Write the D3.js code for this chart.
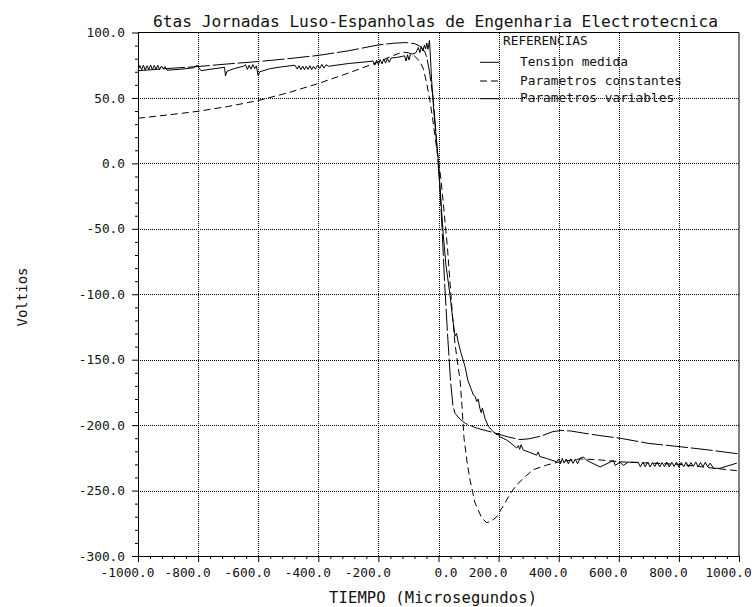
<!DOCTYPE html>
<html>
<head>
<meta charset="utf-8">
<script src="https://cdn.jsdelivr.net/npm/d3@7"></script>
<style>
  html, body { margin: 0; padding: 0; background: #fff; }
  svg { display: block; font-family: "DejaVu Sans Mono", monospace; }
</style>
</head>
<body>
<svg id="chart" width="752" height="607"></svg>
<script>
// Axis ticks and labels
const xMajor = [-1000, -800, -600, -400, -200, 0, 200, 400, 600, 800, 1000];
const xLabels = ["-1000.0", "-800.0", "-600.0", "-400.0", "-200.0", "0.0", "200.0", "400.0", "600.0", "800.0", "1000.0"];
const yMajor = [-300, -250, -200, -150, -100, -50, 0, 50, 100];
const yLabels = ["-300.0", "-250.0", "-200.0", "-150.0", "-100.0", "-50.0", "0.0", "50.0", "100.0"];
const xGrid = [-800, -600, -400, -200, 0, 200, 400, 600, 800];
const yGrid = [-250, -200, -150, -100, -50, 0, 50];

// Series: [time (µs), voltage (V)]
const tensionMedida = [
  [-1000, 71.0], [-994, 74.8], [-988, 71.6], [-982, 75.0], [-976, 71.4], [-970, 74.6],
  [-964, 71.8], [-958, 75.2], [-952, 71.5], [-946, 74.8], [-940, 72.0], [-934, 75.0],
  [-928, 71.6], [-922, 74.4], [-916, 72.2], [-910, 74.0], [-903, 71.2],
  [-860, 71.9], [-815, 73.0], [-804, 75.0], [-790, 70.8], [-760, 71.9], [-712, 73.4],
  [-709, 66.8], [-704, 70.4], [-680, 72.4], [-648, 74.3], [-642, 75.4], [-636, 71.8],
  [-630, 75.0], [-624, 72.0], [-618, 75.5], [-612, 72.4], [-606, 74.5], [-600, 66.8],
  [-595, 70.0], [-560, 72.4], [-520, 73.8], [-478, 75.0],
  [-470, 72.0], [-464, 74.6], [-458, 71.6], [-452, 74.4], [-446, 71.5], [-440, 74.2],
  [-434, 71.8], [-428, 74.6], [-422, 71.6], [-416, 74.2], [-410, 72.0], [-402, 75.2],
  [-395, 72.6], [-388, 75.6], [-381, 72.8], [-374, 75.4], [-366, 74.2],
  [-300, 76.3], [-240, 77.6], [-218, 78.2], [-212, 75.0], [-206, 78.8], [-200, 75.4],
  [-194, 79.3], [-188, 76.0], [-182, 79.8], [-176, 76.6], [-170, 80.2], [-164, 77.2],
  [-157, 80.6], [-140, 80.9], [-120, 81.8], [-113, 82.2], [-108, 78.2], [-103, 83.0],
  [-98, 79.0], [-93, 83.8], [-86, 83.6], [-76, 84.4], [-72, 86.0], [-67, 88.6],
  [-62, 84.6], [-57, 89.2], [-52, 85.8], [-47, 90.4], [-43, 87.4], [-39, 92.0],
  [-35, 87.2], [-30, 94.0], [-27, 82.0], [-23, 64.0], [-15, 38.0], [-7, 18.0],
  [0, 1.0], [5, -18], [10, -35], [16, -55], [25, -78], [38, -100], [47, -118],
  [55, -132], [60, -130], [65, -136], [75, -145], [88, -155], [98, -166], [108, -172],
  [116, -177], [122, -178], [127, -182], [132, -180], [138, -187.5], [142, -190.5],
  [146, -187], [155, -195], [166, -201], [182, -205], [195, -207.5], [199, -206],
  [203, -209], [215, -210], [227, -211.5], [245, -214.5], [260, -217.5], [266, -215.5],
  [270, -218.5], [275, -215], [282, -219], [300, -220.5], [327, -223], [332, -220.5],
  [337, -224], [360, -225.5], [393, -228], [400, -225.8], [406, -229.5], [412, -225.5],
  [418, -229], [425, -226], [432, -229.5], [440, -225.8], [448, -229.2], [455, -226],
  [463, -229.5], [471, -225.3], [482, -224.4], [493, -226.9], [538, -232], [582, -227],
  [588, -230.8], [604, -228.3], [615, -230.8], [631, -228.3], [665, -228.5], [672, -232],
  [680, -228.3], [688, -231.8], [696, -228.2], [704, -232], [712, -228.5], [720, -231.6],
  [728, -228.2], [736, -232], [744, -228.6], [752, -231.8], [760, -228.2], [768, -232],
  [776, -228.4], [784, -231.6], [792, -228.2], [800, -232.2], [808, -228.5], [816, -231.8],
  [824, -228.3], [832, -232], [840, -228.6], [848, -231.5], [856, -228.2], [864, -232],
  [872, -228.5], [880, -231.8], [888, -228.4], [896, -232], [904, -229], [915, -233],
  [937, -233], [993, -229]
];

const paramConstantes = [
  [-1000, 34.5], [-900, 37.0], [-800, 39.8], [-700, 43.5], [-600, 48.0], [-500, 54.0],
  [-400, 61.0], [-300, 69.0], [-200, 77.5], [-150, 82.5], [-120, 85.0], [-100, 84.5],
  [-80, 82.0], [-62, 78.0], [-50, 72.0], [-40, 62.0], [-30, 50.0], [-20, 35.0],
  [-10, 18.0], [0, 2.0], [8, -12], [15, -28], [22, -45], [30, -65], [38, -90],
  [46, -115], [55, -138], [65, -155], [72, -166], [78, -185], [85, -210], [95, -228],
  [105, -242], [121, -259], [144, -271], [160, -274.5], [175, -273.5], [194, -270],
  [221, -259.5], [240, -252], [260, -245.7], [290, -239], [316, -234], [360, -230.5],
  [404, -228], [471, -225.8], [538, -226.6], [604, -228], [700, -229], [804, -230],
  [900, -232.5], [1000, -235]
];

const paramVariables = [
  [-1000, 70.8], [-900, 72.5], [-800, 74.0], [-700, 76.0], [-600, 77.8], [-500, 80.0],
  [-400, 82.5], [-300, 86.0], [-200, 90.5], [-150, 91.8], [-110, 92.3], [-80, 91.5],
  [-62, 89.7], [-45, 85.0], [-38, 80.0], [-30, 70.0], [-24, 60.0], [-18, 50.0],
  [-10, 28.0], [-2, 2.0], [5, -20], [12, -50], [20, -90], [30, -130], [40, -166],
  [48, -185], [55, -191], [72, -195.5], [90, -198.8], [130, -202.5], [180, -205.5],
  [230, -209], [271, -211], [300, -210.5], [340, -208.5], [380, -205], [410, -204],
  [440, -204.5], [480, -206], [537, -208], [604, -210], [700, -214], [804, -216.5],
  [900, -219], [1000, -222]
];

const legendItems = ["Tension medida", "Parametros constantes", "Parametros variables"];
const legendDash = [null, "7,4", "22,3"];

const FONT = "DejaVu Sans Mono";
const svg = d3.select("#chart");
const x = d3.scaleLinear().domain([-1000, 1000]).range([138, 739]);
const y = d3.scaleLinear().domain([-300, 100]).range([556, 32.5]);

// Dotted grid
const grid = svg.append("g").attr("stroke", "#000").attr("stroke-dasharray", "1,1").attr("stroke-width", 1);
grid.selectAll("line.h").data(yGrid).join("line").attr("class", "h")
  .attr("x1", x(-1000)).attr("x2", x(1000)).attr("y1", d => Math.round(y(d)) + 0.5).attr("y2", d => Math.round(y(d)) + 0.5);
grid.selectAll("line.v").data(xGrid).join("line").attr("class", "v")
  .attr("y1", y(-300)).attr("y2", y(100)).attr("x1", d => Math.round(x(d)) + 0.5).attr("x2", d => Math.round(x(d)) + 0.5);

// Frame (top and right)
svg.append("line").attr("x1", x(-1000)).attr("x2", x(1000)).attr("y1", y(100)).attr("y2", y(100)).attr("stroke", "#000");
svg.append("line").attr("x1", x(1000)).attr("x2", x(1000)).attr("y1", y(100)).attr("y2", y(-300)).attr("stroke", "#000");

// Axes
svg.append("g").attr("transform", `translate(${x(-1000)},0)`)
  .call(d3.axisLeft(y).tickValues(yMajor).tickSize(6).tickSizeOuter(0).tickPadding(7)
    .tickFormat((d, i) => yLabels[i]));
svg.append("g").attr("transform", `translate(${x(-1000)},0)`)
  .call(d3.axisLeft(y).tickValues(d3.range(-300, 101, 10).filter(v => v % 50 !== 0)).tickSize(3).tickFormat(""))
  .call(g => g.select(".domain").remove());
const xAxis = svg.append("g").attr("transform", `translate(0,${y(-300)})`)
  .call(d3.axisBottom(x).tickValues(xMajor).tickSize(6).tickSizeOuter(0).tickPadding(6)
    .tickFormat((d, i) => xLabels[i]));
svg.append("g").attr("transform", `translate(0,${y(-300)})`)
  .call(d3.axisBottom(x).tickValues(d3.range(-1000, 1001, 40).filter(v => v % 200 !== 0)).tickSize(3).tickFormat(""))
  .call(g => g.select(".domain").remove());

svg.selectAll(".tick text").attr("font-family", FONT).attr("font-size", 12.8).attr("fill", "#111");
xAxis.selectAll(".tick text").attr("dx", d => d === 0 ? 7 : -11);
svg.selectAll(".domain, .tick line").attr("stroke", "#000");

// Series
const line = d3.line().x(d => x(d[0])).y(d => y(d[1]));
const plot = svg.append("g").attr("fill", "none").attr("stroke", "#000").attr("stroke-width", 1);
plot.append("path").datum(paramConstantes).attr("d", line).attr("stroke-dasharray", "7,4");
plot.append("path").datum(paramVariables).attr("d", line).attr("stroke-dasharray", "22,3");
plot.append("path").datum(tensionMedida).attr("d", line);

// Title and axis titles
svg.append("text").attr("x", 435.5).attr("y", 27).attr("text-anchor", "middle").attr("fill", "#111")
  .attr("font-size", 16.2).attr("textLength", 565).attr("lengthAdjust", "spacing")
  .text("6tas Jornadas Luso-Espanholas de Engenharia Electrotecnica");
svg.append("text").attr("x", 433).attr("y", 603).attr("text-anchor", "middle").attr("fill", "#111")
  .attr("font-size", 15.5).attr("textLength", 208).attr("lengthAdjust", "spacing")
  .text("TIEMPO (Microsegundos)");
svg.append("text").attr("transform", "translate(27,297) rotate(-90)").attr("text-anchor", "middle")
  .attr("fill", "#111").attr("font-size", 14).text("Voltios");

// Legend
const lg = svg.append("g").attr("font-size", 12.8).attr("fill", "#111");
lg.append("text").attr("x", 503).attr("y", 41.7).attr("dominant-baseline", "middle").text("REFERENCIAS");
const rows = [62.3, 81, 98.7];
legendItems.forEach((name, i) => {
  lg.append("line").attr("x1", 480).attr("x2", 499).attr("y1", rows[i]).attr("y2", rows[i])
    .attr("stroke", "#000").attr("stroke-dasharray", legendDash[i]);
  lg.append("text").attr("x", 520).attr("y", rows[i]).attr("dominant-baseline", "middle").text(name);
});
</script>
</body>
</html>
